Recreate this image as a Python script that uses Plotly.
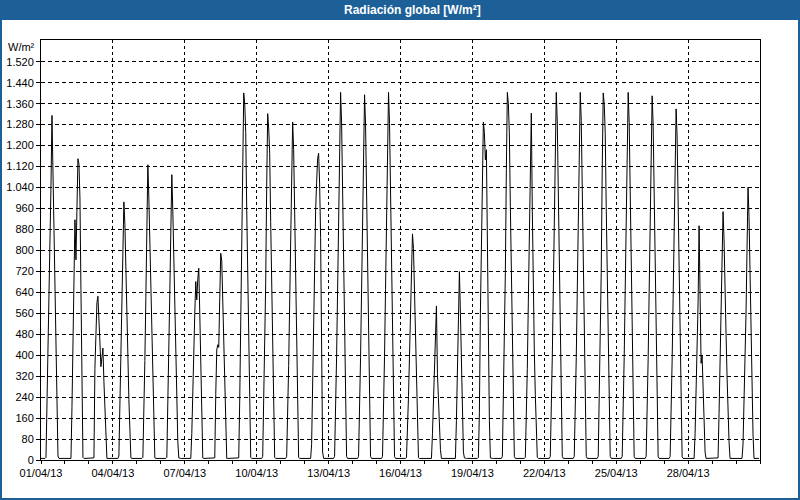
import pandas as pd
import plotly.graph_objects as go

# Hourly global radiation (W/m²), one list per day of April 2013 (hours 0..23)
day01 = [6,6,6,6,6,10, 200,430,630,830,1050,1315,1100,780,520,300,110,15,6, 6,6,6,6,6]
day02 = [6,6,6,6,6,6, 6,200,471,687,917,764,948,1150,1130,1000,650,300,10, 6,6,6,6,6]
day03 = [6,6,6,6,6,8, 350,540,600,625,560,450,356,400,427,300,170,40,6, 6,6,6,6,6]
day04 = [6,6,6,6,6,6, 15,230,450,650,800,985,900,760,600,400,230,60,8, 6,6,6,6,6]
day05 = [6,6,6,6,6,6, 10,160,380,620,900,1127,1000,820,620,420,240,80,8, 6,6,6,6,6]
day06 = [6,6,6,6,6,6, 10,180,400,640,870,1089,950,760,600,420,250,70,8, 6,6,6,6,6]
day07 = [6,6,6,6,6,6, 6,100,300,480,560,681,611,690,732,560,395,180,8, 6,6,6,6,6]
day08 = [6,6,6,6,6,6, 8,250,420,440,430,620,789,760,600,420,220,60,6, 6,6,6,6,6]
day09 = [6,6,6,6,6,6, 8,229,480,720,1110,1401,1360,1250,960,720,520,229,10, 6,6,6,6,6]
day10 = [6,6,6,6,6,6, 13,210,450,675,1045,1322,1267,1170,910,675,490,210,10, 6,6,6,6,6]
day11 = [6,6,6,6,6,6, 13,155,360,595,850,1135,1290,1185,955,695,465,205,10, 6,6,6,6,6]
day12 = [6,6,6,6,6,6, 6,60,300,520,713,950,1060,1150,1171,1057,850,450,30, 6,6,6,6,6]
day13 = [6,6,6,6,6,6, 14,168,393,645,926,1235,1403,1290,1038,758,505,224,14, 6,6,6,6,6]
day14 = [6,6,6,6,6,6, 14,167,390,641,920,1227,1394,1282,1032,753,502,223,14, 6,6,6,6,6]
day15 = [6,6,6,6,6,6, 14,170,395,650,930,1240,1403,1285,1030,750,500,220,14, 6,6,6,6,6]
day16 = [6,6,6,6,6,6, 9,104,242,397,570,760,863,808,640,466,310,138,9, 6,6,6,6,6]
day17 = [6,6,6,6,6,6, 6,6,100,220,330,420,588,330,230,120,40,6,6, 6,6,6,6,6]
day18 = [6,6,6,6,6,6, 6,6,150,350,600,719,560,340,150,30,8,6,6, 6,6,6,6,6]
day19 = [6,6,6,6,6,6, 10,180,560,880,1150,1290,1250,1146,1184,780,420,150,8, 6,6,6,6,6]
day20 = [6,6,6,6,6,6, 14,225,477,715,1108,1403,1361,1249,968,716,519,224,14, 6,6,6,6,6]
day21 = [6,6,6,6,6,10, 150,350,600,840,1222,1324,950,620,420,250,100,10,6, 6,6,6,6,6]
day22 = [6,6,6,6,6,6, 14,168,393,645,926,1235,1403,1290,1038,758,505,224,14, 6,6,6,6,6]
day23 = [6,6,6,6,6,6, 14,170,390,640,930,1230,1403,1295,1040,760,505,225,14, 6,6,6,6,6]
day24 = [6,6,6,6,6,6, 14,224,476,715,1107,1401,1360,1247,967,715,518,224,14, 6,6,6,6,6]
day25 = [6,6,6,6,6,6, 14,165,392,648,928,1238,1403,1288,1036,755,503,222,14, 6,6,6,6,6]
day26 = [6,6,6,6,6,6, 14,167,389,639,917,1223,1390,1279,1029,751,500,222,14, 6,6,6,6,6]
day27 = [6,6,6,6,6,6, 13,161,375,616,884,1179,1340,1233,992,724,482,214,13, 6,6,6,6,6]
day28 = [6,6,6,6,6,6, 6,100,250,400,600,894,640,369,401,242,120,30,6, 6,6,6,6,6]
day29 = [6,6,6,6,6,6, 8,178,380,560,720,948,840,600,480,320,170,70,6, 6,6,6,6,6]
day30 = [6,6,6,6,6,6, 6,60,200,380,560,802,1041,929,713,540,300,100,6, 6,6,6,6,6]

days = [day01, day02, day03, day04, day05, day06, day07, day08, day09, day10,
        day11, day12, day13, day14, day15, day16, day17, day18, day19, day20,
        day21, day22, day23, day24, day25, day26, day27, day28, day29, day30]

x_tick_dates = ["2013-04-01", "2013-04-04", "2013-04-07", "2013-04-10", "2013-04-13",
                "2013-04-16", "2013-04-19", "2013-04-22", "2013-04-25", "2013-04-28"]
x_tick_labels = ["01/04/13", "04/04/13", "07/04/13", "10/04/13", "13/04/13",
                 "16/04/13", "19/04/13", "22/04/13", "25/04/13", "28/04/13"]
y_tick_values = list(range(0, 1521, 80))

title_text = "Radiación global [W/m²]"
unit_text = "W/m²"

values = [v for d in days for v in d]
times = pd.date_range("2013-04-01 00:00", periods=len(values), freq="h")

BLUE = "#1D5F97"
FONT = "Liberation Sans"

# plot-area geometry in pixels (for paper-coordinate decorations)
L, R, T, B = 41, 40, 40, 40
W, H = 800, 500
PW, PH = W - L - R, H - T - B

def px(xp):
    return (xp - L) / PW

def py(yp):
    return (H - B - yp) / PH

fig = go.Figure()
fig.add_trace(go.Scatter(x=times, y=values, mode="lines",
                         line=dict(color="black", width=1),
                         hoverinfo="skip", showlegend=False))

fig.update_layout(
    width=W, height=H, autosize=False,
    margin=dict(l=L, r=R, t=T, b=B, pad=0, autoexpand=False),
    paper_bgcolor="white", plot_bgcolor="white",
    separators=",.",
    font=dict(family=FONT, size=11, color="black"),
    showlegend=False,
)

fig.update_xaxes(
    type="date", automargin=False,
    range=["2013-04-01 00:00", "2013-05-01 00:00"],
    tickmode="array", tickvals=x_tick_dates, ticktext=x_tick_labels,
    ticks="outside", ticklen=3, tickcolor="black", tickwidth=1,
    tickfont=dict(family=FONT, size=11, color="black"),
    showgrid=True, gridcolor="black", gridwidth=1, griddash="3px,3px",
    showline=True, linecolor="black", linewidth=1, mirror=True,
    zeroline=False,
    minor=dict(tickmode="linear", tick0="2013-04-01", dtick=86400000,
               ticks="outside", ticklen=3, tickcolor="black", showgrid=False),
)

fig.update_yaxes(
    automargin=False,
    range=[0, 1603],
    tickmode="array", tickvals=y_tick_values,
    separatethousands=True,
    ticks="outside", ticklen=4, tickcolor="black", tickwidth=1,
    tickfont=dict(family=FONT, size=11, color="black"),
    showgrid=True, gridcolor="black", gridwidth=1, griddash="4px,3px",
    showline=True, linecolor="black", linewidth=1, mirror=True,
    zeroline=False,
)

shapes = [
    # title bar
    dict(type="rect", xref="paper", yref="paper", x0=px(0), x1=px(800), y0=py(20), y1=py(0),
         fillcolor=BLUE, line=dict(width=0)),
    # window frame
    dict(type="rect", xref="paper", yref="paper", x0=px(0), x1=px(2), y0=py(500), y1=py(0),
         fillcolor=BLUE, line=dict(width=0)),
    dict(type="rect", xref="paper", yref="paper", x0=px(798), x1=px(800), y0=py(500), y1=py(0),
         fillcolor=BLUE, line=dict(width=0)),
    dict(type="rect", xref="paper", yref="paper", x0=px(0), x1=px(800), y0=py(500), y1=py(498),
         fillcolor=BLUE, line=dict(width=0)),
]
fig.update_layout(shapes=shapes)

fig.add_annotation(text="<b>" + title_text + "</b>", xref="paper", yref="paper",
                   x=px(412), y=py(10), xanchor="center", yanchor="middle",
                   showarrow=False, font=dict(family=FONT, size=12, color="white"))
fig.add_annotation(text=unit_text, xref="paper", yref="paper",
                   x=px(37), y=py(47), xanchor="right", yanchor="middle",
                   showarrow=False, font=dict(family=FONT, size=11, color="black"))

fig.write_html("out.html")
